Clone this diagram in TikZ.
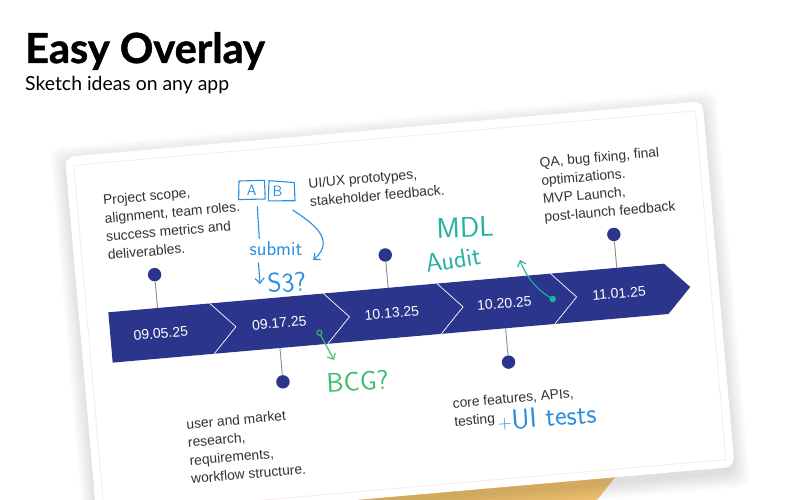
\documentclass[tikz,border=0pt]{standalone}
\usepackage{fontspec}
\setmainfont{Liberation Sans}
\newfontfamily\titlefont{Lato}
\usetikzlibrary{arrows.meta}
\definecolor{navy}{RGB}{43,53,140}
\definecolor{txt}{RGB}{50,50,50}
\definecolor{stemc}{RGB}{140,140,140}
\definecolor{hblue}{RGB}{42,142,222}
\definecolor{hteal}{RGB}{36,178,160}
\definecolor{hgreen}{RGB}{58,190,108}
\definecolor{gold}{RGB}{241,196,112}
\definecolor{innerc}{RGB}{246,230,233}
\begin{document}
\begin{tikzpicture}[x=1pt,y=-1pt,
  body/.style={font=\fontsize{13.8}{18.3}\selectfont, text=txt, align=left, anchor=base west, inner sep=0pt, transform shape},
  datetext/.style={font=\fontsize{14}{16}\selectfont, text=white, inner sep=0pt, transform shape},
  pin/.style={circle, fill=navy, minimum size=13.4pt, inner sep=0pt},
  stemline/.style={draw=stemc, line width=0.9pt},
  hand/.style={inner sep=0pt, anchor=base west},
  hline/.style={line width=1.1pt, line cap=round, line join=round},
  barb/.style={-{Straight Barb[length=5pt,width=9pt]}},
]
\useasboundingbox (0,0) rectangle (800,500);
\fill[white] (0,0) rectangle (800,500);

% title
\node[anchor=base west, inner sep=0pt, font=\titlefont\bfseries\fontsize{41.5}{48}\selectfont\addfontfeature{FakeBold=1.2}] (title) at (25,63) {Easy Overlay};
\node[anchor=base west, inner sep=0pt, font=\titlefont\fontsize{19.4}{24}\selectfont] (sub) at (25,90.7) {Sketch ideas on any app};

% gold brush under the card
\fill[gold] (300,480) -- (625,465) -- (589,510) -- (300,510) -- cycle;

\begin{scope}[shift={(65,157)}, rotate=5]
  % shadow
  \foreach \s in {2,4,...,16}
    \fill[black, opacity=0.016, rounded corners=12] ({-\s+2},{-\s+6}) rectangle ({640+\s-2},{367+\s+5});
  % card
  \fill[white, rounded corners=9] (0,0) rectangle (640,367);
  \draw[innerc, line width=0.7pt] (8,9) rectangle (632,359);

  % band
  \fill[navy] (29.6,158.5) -- (587.5,158.5) -- (611.5,184) -- (587.5,209) -- (29.6,209) -- cycle;
  \foreach \b in {131.5,245.5,359.5,473.5}
    \draw[white, line width=0.7pt] (\b,158.5) -- ({\b+24},184) -- (\b,209);

  % dates
  \node[datetext] (d1) at (80,184) {09.05.25};
  \node[datetext] (d2) at (199,184) {09.17.25};
  \node[datetext] (d3) at (312,184) {10.13.25};
  \node[datetext] (d4) at (425,184) {10.20.25};
  \node[datetext] (d5) at (540,184) {11.01.25};

  % pins
  \coordinate (b1) at (79,158.5);
  \coordinate (b2) at (197.5,209);
  \coordinate (b3) at (310.5,158.5);
  \coordinate (b4) at (424,209);
  \coordinate (b5) at (540,158.5);
  \node[pin] (p1) at (79,125) {};
  \node[pin] (p2) at (197.5,243) {};
  \node[pin] (p3) at (310.5,125.5) {};
  \node[pin] (p4) at (424,243) {};
  \node[pin] (p5) at (540,125) {};
  \draw[stemline] (p1) -- (b1);
  \draw[stemline] (p2) -- (b2);
  \draw[stemline] (p3) -- (b3);
  \draw[stemline] (p4) -- (b4);
  \draw[stemline] (p5) -- (b5);

  % texts (anchored at the baseline of the last line)
  \node[body] (t1) at (34,106) {Project scope,\\alignment, team roles.\\success metrics and\\deliverables.};
  \node[body] (t2) at (240,70.7) {UI/UX prototypes,\\stakeholder feedback.};
  \node[body] (t3) at (472.3,106.5) {QA, bug fixing, final\\optimizations.\\MVP Launch,\\post-launch feedback};
  \node[body] (t4) at (97.5,336.5) {user and market\\research,\\requirements,\\workflow structure.};
  \node[body] (t5) at (364.6,302.5) {core features, APIs,\\testing};
\end{scope}

% handwriting: blue
\draw[hblue, hline] (239,181) -- (264.5,180.3) -- (265.2,199) -- (238.6,199.6) -- cycle;
\node[hand, text=hblue, font=\sffamily\fontsize{15}{15}\selectfont, anchor=center] (A) at (251.7,190.5) {A};
\draw[hblue, hline] (269,180.7) -- (294.3,182.5) -- (295,200.7) -- (268.3,200.9) -- cycle;
\node[hand, text=hblue, font=\sffamily\fontsize{15}{15}\selectfont, anchor=center] (B) at (277.5,191) {B};
\coordinate (la) at (257.3,206.7);
\coordinate (lb) at (259.3,238.3);
\draw[hblue, hline] (la) -- (lb);
\node[hand, text=hblue, font=\sffamily\fontsize{20}{20}\selectfont, anchor=base] (submit) at (276,255) {submit};
\coordinate (da) at (258.5,263);
\coordinate (db) at (260,284);
\draw[hblue, hline, barb] (da) -- (db);
\node[hand, text=hblue, font=\sffamily\fontsize{27}{27}\selectfont, rotate=4] (s3) at (268,293) {S3?};
\coordinate (ca) at (292.7,210);
\coordinate (cb) at (313.3,260);
\draw[hblue, hline, barb] (ca) .. controls (314,224) and (336,240) .. (cb);
\node[hand, text=hblue, font=\sffamily\fontsize{28}{28}\selectfont, rotate=4] (uit) at (498,430) {{\fontsize{19}{19}\selectfont+}UI tests};

% teal
\node[hand, text=hteal, font=\sffamily\fontsize{28.5}{28.5}\selectfont, rotate=2] (mdl) at (436.7,238.3) {MDL};
\node[hand, text=hteal, font=\sffamily\fontsize{26}{26}\selectfont, rotate=9] (audit) at (427,273) {Audit};
\node[circle, fill=hteal, minimum size=6.6pt, inner sep=0pt] (tdot) at (552.7,299) {};
\coordinate (tend) at (520,260);
\draw[hteal, hline, barb] (tdot.center) .. controls (538,291) and (526,277) .. (tend);

% green
\node[circle, draw=hgreen, line width=1pt, minimum size=5pt, inner sep=0pt] (gdot) at (319.3,332.7) {};
\coordinate (gend) at (334,360);
\draw[hgreen, hline, barb] (gdot) -- (gend);
\node[hand, text=hgreen, font=\sffamily\fontsize{27}{27}\selectfont, rotate=3] (bcg) at (327,392.5) {BCG?};
\end{tikzpicture}
\end{document}
